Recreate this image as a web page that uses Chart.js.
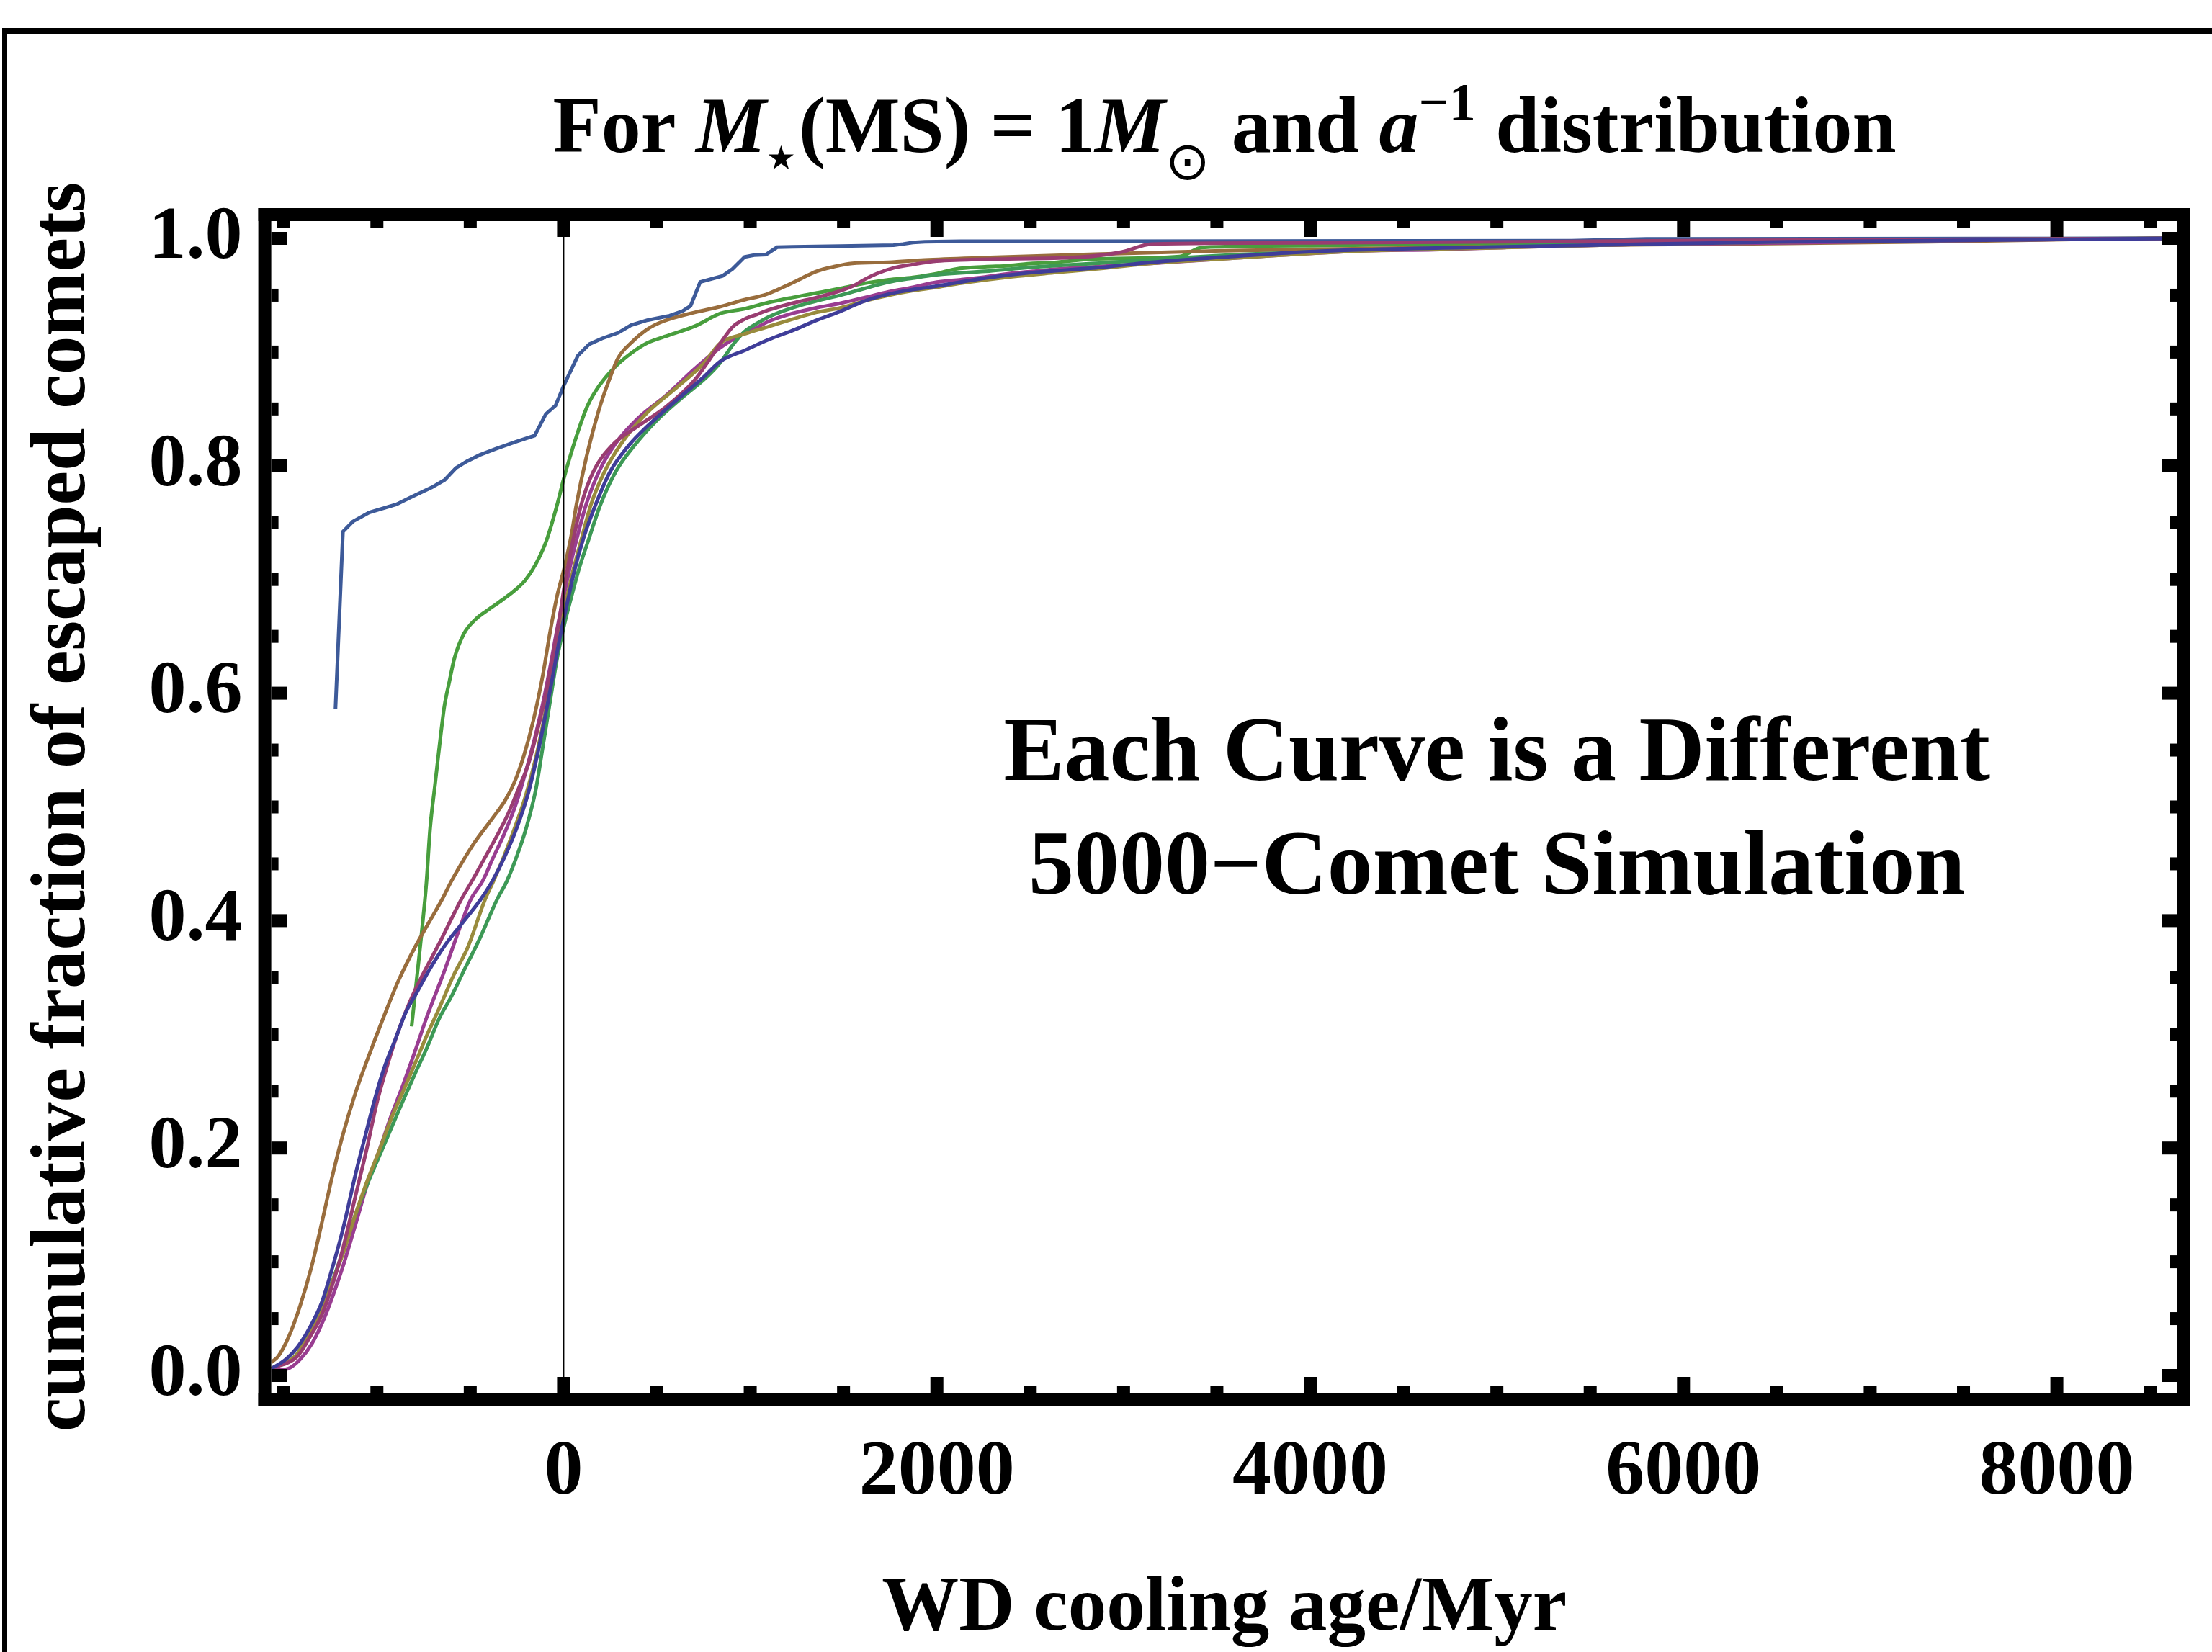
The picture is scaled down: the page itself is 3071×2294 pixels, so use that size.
<!DOCTYPE html>
<html>
<head>
<meta charset="utf-8">
<script src="https://cdn.jsdelivr.net/npm/chart.js@4.4.1/dist/chart.umd.min.js"></script>
<style>
  html, body { margin: 0; padding: 0; background: #fff; }
</style>
</head>
<body>
<canvas id="cdf" width="3071" height="2294"></canvas>
<script>
const SERIF = '"Liberation Serif", "Times New Roman", serif';

// axis range + ticks
const X_MIN = -1566, X_MAX = 8646;
const Y_MIN = -0.0152, Y_MAX = 1.0152;
const xTicks = [0, 2000, 4000, 6000, 8000];
const yTicks = [0, 0.2, 0.4, 0.6, 0.8, 1.0];

// cumulative fraction curves, [cooling age in Myr, fraction]
const indigo = [[-1566,0.006],[-1489,0.014],[-1425,0.025],[-1360,0.042],[-1296,0.064],[-1245,0.091],[-1180,0.130],[-1116,0.176],[-1065,0.209],[-1013,0.242],[-962,0.270],[-898,0.297],[-846,0.319],[-782,0.338],[-718,0.357],[-641,0.377],[-537,0.399],[-447,0.418],[-381,0.435],[-316,0.456],[-252,0.481],[-188,0.513],[-136,0.549],[-98,0.580],[-59,0.614],[-21,0.648],[18,0.678],[57,0.707],[108,0.737],[172,0.766],[250,0.795],[350,0.818],[450,0.835],[600,0.857],[750,0.878],[841,0.892],[970,0.9015],[1099,0.911],[1227,0.919],[1356,0.928],[1485,0.936],[1614,0.945],[1742,0.951],[1871,0.955],[2000,0.958],[2257,0.965],[2514,0.970],[2849,0.974],[3149,0.979],[3528,0.9835],[3907,0.9875],[4286,0.990],[5044,0.9925],[5802,0.995],[6560,0.997],[7318,0.998],[8640,1.0]];
const maroon = [[-1566,0.006],[-1425,0.017],[-1360,0.0335],[-1296,0.053],[-1232,0.083],[-1180,0.113],[-1116,0.157],[-1052,0.201],[-1000,0.240],[-949,0.270],[-885,0.303],[-820,0.330],[-756,0.352],[-666,0.380],[-550,0.418],[-490,0.435],[-426,0.454],[-362,0.473],[-297,0.494],[-239,0.517],[-188,0.538],[-136,0.570],[-98,0.597],[-59,0.631],[-21,0.667],[5,0.695],[31,0.718],[57,0.739],[95,0.766],[160,0.795],[260,0.818],[400,0.835],[550,0.852],[700,0.875],[780,0.893],[841,0.908],[905,0.922],[970,0.929],[1034,0.933],[1099,0.937],[1227,0.943],[1356,0.948],[1485,0.954],[1549,0.958],[1614,0.964],[1678,0.969],[1768,0.974],[1871,0.977],[2000,0.980],[2128,0.981],[2386,0.982],[2770,0.9835],[2990,0.988],[3150,0.995],[4000,0.996],[6000,0.998],[8640,1.0]];
const olive = [[-1566,0.006],[-1438,0.017],[-1373,0.0335],[-1309,0.0555],[-1245,0.080],[-1180,0.108],[-1116,0.141],[-1052,0.171],[-987,0.198],[-923,0.226],[-859,0.250],[-794,0.275],[-730,0.300],[-666,0.323],[-589,0.352],[-512,0.377],[-422,0.418],[-375,0.435],[-316,0.458],[-252,0.486],[-201,0.511],[-149,0.543],[-111,0.572],[-72,0.606],[-34,0.640],[5,0.674],[44,0.703],[95,0.735],[147,0.766],[220,0.795],[320,0.822],[450,0.847],[600,0.868],[750,0.890],[841,0.908],[970,0.916],[1099,0.9225],[1227,0.929],[1356,0.935],[1485,0.939],[1614,0.945],[1742,0.950],[1871,0.954],[2000,0.957],[2128,0.9605],[2386,0.966],[2643,0.970],[2849,0.973],[3149,0.978],[3528,0.982],[4286,0.989],[5044,0.992],[5802,0.995],[6560,0.997],[8640,1.0]];
const green = [[-1566,0.006],[-1438,0.017],[-1373,0.0335],[-1309,0.0555],[-1245,0.080],[-1180,0.110],[-1116,0.141],[-1052,0.168],[-987,0.193],[-923,0.2175],[-859,0.242],[-794,0.266],[-730,0.289],[-666,0.314],[-602,0.333],[-537,0.355],[-447,0.385],[-358,0.418],[-303,0.435],[-252,0.456],[-201,0.481],[-149,0.515],[-111,0.553],[-72,0.593],[-34,0.631],[5,0.661],[44,0.686],[82,0.709],[134,0.735],[198,0.766],[280,0.795],[380,0.818],[500,0.840],[650,0.862],[760,0.877],[841,0.891],[905,0.906],[970,0.918],[1034,0.925],[1099,0.931],[1227,0.939],[1356,0.945],[1485,0.950],[1614,0.956],[1742,0.9615],[1871,0.965],[2000,0.968],[2257,0.971],[2514,0.9746],[2849,0.978],[3528,0.985],[4286,0.9895],[5044,0.993],[5802,0.997],[6560,0.998],[8640,1.0]];
const blue = [[-1222,0.586],[-1182,0.742],[-1129,0.751],[-1041,0.759],[-896,0.766],[-810,0.773],[-706,0.781],[-637,0.7875],[-577,0.798],[-517,0.804],[-448,0.8096],[-362,0.815],[-258,0.821],[-155,0.8265],[-95,0.8455],[-43,0.853],[5,0.872],[77,0.897],[138,0.907],[206,0.912],[293,0.917],[361,0.9236],[448,0.928],[568,0.932],[637,0.936],[680,0.9405],[732,0.9616],[852,0.967],[905,0.973],[970,0.9837],[1021,0.9853],[1085,0.9858],[1144,0.9922],[1227,0.9926],[1485,0.9932],[1768,0.994],[1819,0.995],[1871,0.9964],[1935,0.997],[2128,0.9975],[2849,0.9975],[5400,0.998],[5800,0.9995],[8640,1.0]];
const magenta = [[-1566,0.0045],[-1476,0.006],[-1412,0.014],[-1348,0.028],[-1283,0.050],[-1232,0.072],[-1180,0.097],[-1116,0.132],[-1052,0.168],[-987,0.198],[-923,0.2285],[-859,0.256],[-794,0.286],[-730,0.3165],[-640,0.355],[-563,0.3905],[-499,0.418],[-433,0.435],[-381,0.454],[-316,0.477],[-252,0.504],[-201,0.532],[-149,0.564],[-111,0.591],[-72,0.623],[-34,0.657],[5,0.688],[44,0.718],[82,0.743],[121,0.766],[190,0.795],[280,0.820],[400,0.842],[550,0.862],[700,0.885],[841,0.904],[905,0.911],[970,0.917],[1034,0.9215],[1099,0.927],[1227,0.934],[1356,0.939],[1485,0.943],[1614,0.948],[1742,0.953],[1871,0.957],[2000,0.9615],[2128,0.9636],[2257,0.966],[2386,0.969],[2514,0.971],[2643,0.973],[2849,0.975],[3149,0.978],[3528,0.982],[4286,0.989],[4665,0.990],[5044,0.992],[5802,0.995],[6560,0.996],[7318,0.998],[8640,1.0]];
const brown = [[-1566,0.0115],[-1528,0.017],[-1470,0.035],[-1412,0.061],[-1348,0.097],[-1290,0.138],[-1245,0.171],[-1187,0.209],[-1116,0.248],[-1039,0.283],[-962,0.316],[-885,0.347],[-795,0.377],[-730,0.396],[-653,0.418],[-600,0.435],[-484,0.467],[-381,0.490],[-316,0.505],[-265,0.521],[-213,0.545],[-162,0.576],[-111,0.616],[-72,0.654],[-34,0.686],[5,0.711],[44,0.741],[69,0.766],[120,0.806],[189,0.849],[241,0.874],[293,0.895],[361,0.908],[448,0.920],[533,0.927],[706,0.935],[841,0.940],[969,0.946],[1073,0.950],[1162,0.956],[1253,0.963],[1355,0.971],[1446,0.975],[1548,0.978],[1741,0.979],[1933,0.981],[2256,0.983],[2849,0.986],[3527,0.989],[4287,0.991],[5044,0.993],[5802,0.9945],[6560,0.9955],[7318,0.997],[8076,0.999],[8640,1.0]];
const green2 = [[-814,0.307],[-743,0.418],[-734,0.435],[-715,0.481],[-689,0.519],[-664,0.555],[-638,0.589],[-612,0.610],[-586,0.630],[-535,0.652],[-471,0.665],[-407,0.673],[-329,0.682],[-265,0.690],[-207,0.699],[-149,0.7135],[-91,0.7346],[-34,0.766],[0,0.788],[69,0.826],[129,0.853],[189,0.870],[276,0.887],[362,0.899],[448,0.908],[568,0.915],[706,0.923],[841,0.934],[970,0.938],[1099,0.9436],[1227,0.948],[1356,0.952],[1485,0.956],[1614,0.9605],[1742,0.9636],[1871,0.9657],[2000,0.969],[2100,0.973],[2257,0.975],[2386,0.976],[2514,0.978],[2643,0.979],[2849,0.982],[3300,0.984],[3420,0.992],[4000,0.9935],[5000,0.9955],[5800,0.998],[8640,1.0]];

const curves = [
  { pts: indigo,  color: "rgb(63,61,153)" },
  { pts: maroon,  color: "rgb(153,61,113)" },
  { pts: olive,   color: "rgb(153,139,61)" },
  { pts: green,   color: "rgb(61,153,86)" },
  { pts: blue,    color: "rgb(61,90,153)", sharp: true },
  { pts: magenta, color: "rgb(153,61,145)" },
  { pts: brown,   color: "rgb(153,109,61)" },
  { pts: green2,  color: "rgb(72,158,61)" },
];

const titleRuns = [
  { t: "For ", font: `bold 110px ${SERIF}` },
  { t: "M", font: `italic bold 110px ${SERIF}` },
  { t: "★", font: '46px "DejaVu Sans"', dy: 24, gap: 4 },
  { t: "(MS) = 1", font: `bold 110px ${SERIF}` },
  { t: "M", font: `italic bold 110px ${SERIF}` },
  { t: "⊙", font: '74px "DejaVu Sans"', dy: 38, gap: 30 },
  { t: "and ", font: `bold 110px ${SERIF}` },
  { t: "a", font: `italic bold 110px ${SERIF}` },
  { t: "−1", font: `bold 74px ${SERIF}`, dy: -44 },
  { t: " distribution", font: `bold 110px ${SERIF}` },
];
const noteLines = ["Each Curve is a Different", "5000−Comet Simulation"];
const noteX = 5000, noteY = [0.524, 0.424];

function drawRuns(ctx, runs, cx, baseY) {
  let total = 0;
  runs.forEach(r => {
    ctx.font = r.font;
    r.w = ctx.measureText(r.t).width + (r.gap || 0);
    total += r.w;
  });
  let x = cx - total / 2;
  runs.forEach(r => {
    ctx.font = r.font;
    ctx.fillText(r.t, x, baseY + (r.dy || 0));
    x += r.w;
  });
}

// frame, ticks, zero line, title and note
const decor = {
  id: "decor",
  beforeDraw(chart) {
    const ctx = chart.ctx;
    ctx.save();
    ctx.fillStyle = "#fff";
    ctx.fillRect(0, 0, chart.width, chart.height);
    ctx.fillStyle = "#000";
    ctx.fillRect(3, 39, chart.width, 8);
    ctx.fillRect(3, 39, 7, chart.height);
    ctx.restore();
  },
  afterDatasetsDraw(chart) {
    const { ctx, chartArea: a, scales: { x, y } } = chart;
    const T = 18;
    ctx.save();
    ctx.fillStyle = "#000";
    const x0 = x.getPixelForValue(0);
    ctx.fillRect(x0 - 1, a.top, 2, a.bottom - a.top);

    ctx.fillRect(a.left - T, a.top - T, a.right - a.left + 2 * T, T);
    ctx.fillRect(a.left - T, a.bottom, a.right - a.left + 2 * T, T);
    ctx.fillRect(a.left - T, a.top - T, T, a.bottom - a.top + 2 * T);
    ctx.fillRect(a.right, a.top - T, T, a.bottom - a.top + 2 * T);

    for (let v = -1500; v <= 8500; v += 500) {
      const px = x.getPixelForValue(v);
      const len = v % 2000 === 0 ? 22 : 10;
      ctx.fillRect(px - 9, a.bottom - len, 18, len);
      ctx.fillRect(px - 9, a.top, 18, len);
    }
    for (let i = 0; i <= 20; i++) {
      const py = y.getPixelForValue(i * 0.05);
      const len = i % 4 === 0 ? 22 : 10;
      ctx.fillRect(a.left, py - 9, len, 18);
      ctx.fillRect(a.right - len, py - 9, len, 18);
    }
    ctx.restore();
  },
  afterDraw(chart) {
    const { ctx, scales: { x, y } } = chart;
    ctx.save();
    ctx.fillStyle = "#000";
    ctx.textBaseline = "alphabetic";
    ctx.textAlign = "left";
    drawRuns(ctx, titleRuns, 1700, 211);
    ctx.textAlign = "center";
    ctx.font = `bold 126px ${SERIF}`;
    noteLines.forEach((s, i) =>
      ctx.fillText(s, x.getPixelForValue(noteX), y.getPixelForValue(noteY[i])));
    ctx.restore();
  },
};

new Chart(document.getElementById("cdf"), {
  type: "scatter",
  data: {
    datasets: curves.map(c => ({
      data: c.pts.map(([px, py]) => ({ x: px, y: py })),
      showLine: true,
      borderColor: c.color,
      borderWidth: 5,
      pointRadius: 0,
      fill: false,
      tension: 0,
      cubicInterpolationMode: c.sharp ? "default" : "monotone",
    })),
  },
  options: {
    responsive: false,
    animation: false,
    layout: { padding: { left: 25, right: 48, top: 307, bottom: 0 } },
    plugins: { legend: { display: false }, tooltip: { enabled: false } },
    scales: {
      x: {
        type: "linear",
        min: X_MIN,
        max: X_MAX,
        grid: { display: false, drawTicks: false },
        border: { display: false },
        afterBuildTicks: s => { s.ticks = xTicks.map(v => ({ value: v })); },
        afterFit: s => { s.height = 360; },
        ticks: {
          padding: 47,
          color: "#000",
          autoSkip: false,
          maxRotation: 0,
          font: { family: SERIF, weight: "bold", size: 108 },
          callback: v => String(v),
        },
        title: {
          display: true,
          text: "WD cooling age/Myr",
          color: "#000",
          font: { family: SERIF, weight: "bold", size: 107, lineHeight: 1.0 },
          padding: { top: 0, bottom: 5 },
        },
      },
      y: {
        type: "linear",
        min: Y_MIN,
        max: Y_MAX,
        grid: { display: false, drawTicks: false },
        border: { display: false },
        afterBuildTicks: s => { s.ticks = yTicks.map(v => ({ value: v })); },
        afterFit: s => { s.width = 351.6; },
        ticks: {
          padding: 40,
          color: "#000",
          autoSkip: false,
          font: { family: SERIF, weight: "bold", size: 104 },
          callback: v => v.toFixed(1),
        },
        title: {
          display: true,
          text: "cumulative fraction of escaped comets",
          color: "#000",
          font: { family: SERIF, weight: "bold", size: 107, lineHeight: 1.2 },
          padding: 0,
        },
      },
    },
  },
  plugins: [decor],
});
</script>
</body>
</html>
